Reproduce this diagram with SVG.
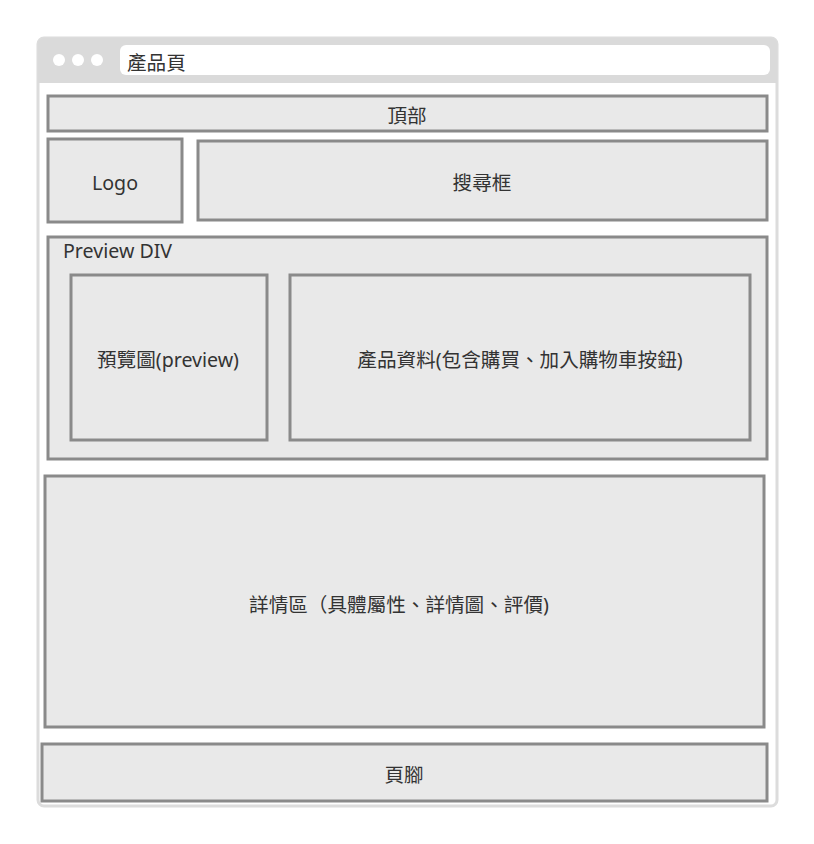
<svg xmlns="http://www.w3.org/2000/svg" width="814" height="844" viewBox="0 0 814 844">
<style>
.box{fill:#e9e9e9;stroke:#8a8a8a;stroke-width:3}
.t{font-family:"Noto Sans","Noto Sans CJK TC",sans-serif;font-size:19.6px;fill:#333;text-anchor:middle;dominant-baseline:central}
.tl{text-anchor:start}
.dot{fill:#fff}
</style>
<rect width="814" height="844" fill="#fff"/>
<g id="browser">
<rect x="38" y="38" width="739" height="768" rx="6" fill="#fff" stroke="#dcdcdc" stroke-width="3"/>
<path d="M38 83 V44 a6 6 0 0 1 6 -6 H771 a6 6 0 0 1 6 6 V83 Z" fill="#dadada"/>
<circle class="dot" cx="59" cy="60" r="6"/>
<circle class="dot" cx="78" cy="60" r="6"/>
<circle class="dot" cx="97" cy="60" r="6"/>
<rect x="120" y="45" width="650" height="30" rx="6" fill="#fff"/>
<text class="t tl" x="127" y="62">產品頁</text>
</g>
<g id="header">
<rect class="box" x="48" y="96" width="719" height="35"/>
<text class="t" x="407" y="115">頂部</text>
</g>
<g id="logo">
<rect class="box" x="48" y="139" width="134" height="83"/>
<text class="t" x="115" y="182">Logo</text>
</g>
<g id="search">
<rect class="box" x="198" y="141" width="569" height="79"/>
<text class="t" x="482" y="182">搜尋框</text>
</g>
<g id="preview-div">
<rect class="box" x="48" y="237" width="719" height="222"/>
<text class="t tl" x="63" y="250">Preview DIV</text>
</g>
<g id="preview">
<rect class="box" x="71" y="275" width="196" height="165"/>
<text class="t" x="168" y="359">預覽圖(preview)</text>
</g>
<g id="product-info">
<rect class="box" x="290" y="275" width="460" height="165"/>
<text class="t" x="520" y="359">產品資料(包含購買、加入購物車按鈕)</text>
</g>
<g id="details">
<rect class="box" x="45" y="476" width="719" height="251"/>
<text class="t" x="399" y="604">詳情區（具體屬性、詳情圖、評價)</text>
</g>
<g id="footer">
<rect class="box" x="42" y="744" width="725" height="57"/>
<text class="t" x="404" y="774">頁腳</text>
</g>
<g id="connectors"></g>
</svg>
